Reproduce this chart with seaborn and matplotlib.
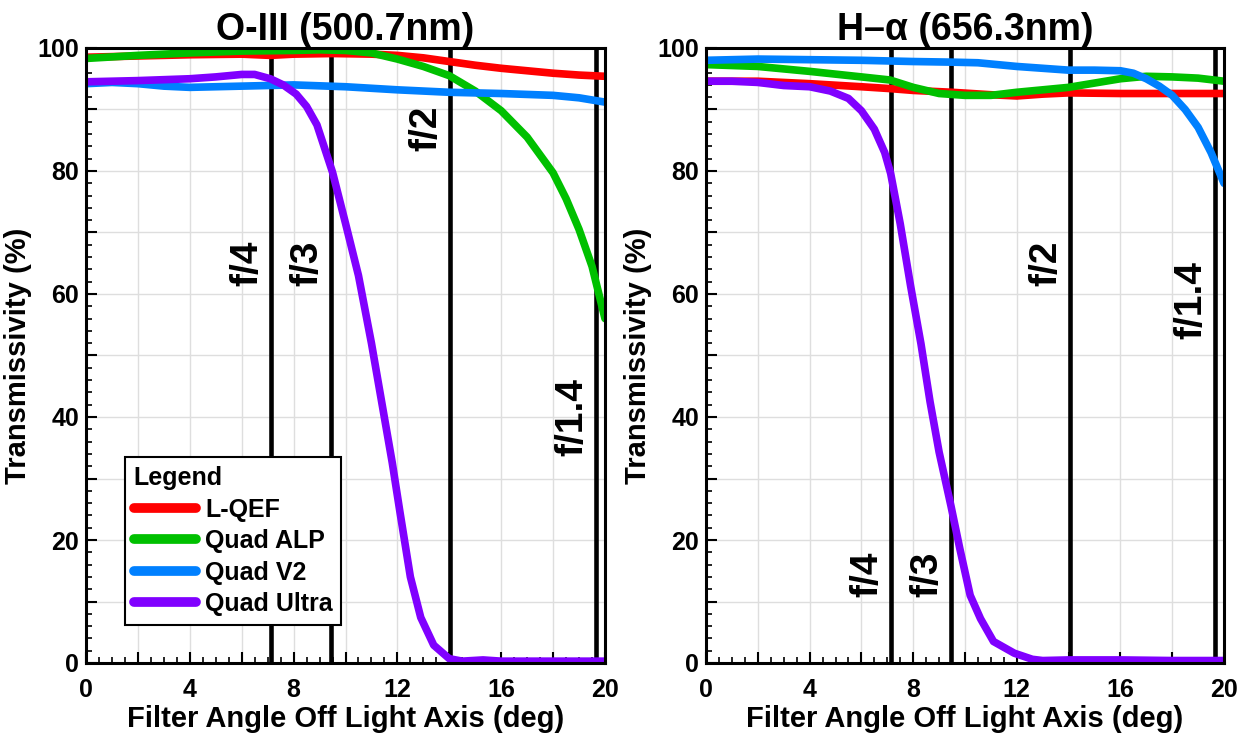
import numpy as np
import pandas as pd
import matplotlib
matplotlib.use("Agg")
import matplotlib.pyplot as plt
from matplotlib.ticker import MultipleLocator, FuncFormatter
import seaborn as sns

# ---------------- data ----------------
series_names = ["L-QEF", "Quad ALP", "Quad V2", "Quad Ultra"]
series_colors = ["#FF0000", "#00C000", "#0080FF", "#8000FF"]

# O-III (500.7nm)
oiii_lqef_x = [0, 2, 4, 6, 7.1, 8, 9.5, 11, 12, 13, 14, 15, 16, 17, 18, 19, 20]
oiii_lqef_y = [98.5, 98.7, 98.9, 99.0, 98.8, 99.0, 99.1, 99.0, 98.8, 98.4, 97.8, 97.2, 96.7, 96.3, 95.9, 95.6, 95.4]
oiii_alp_x = [0, 2, 4, 6, 8, 9, 10, 11, 12, 13, 14, 15, 16, 17, 18, 18.5, 19, 19.5, 20]
oiii_alp_y = [98.3, 98.8, 99.2, 99.5, 99.6, 99.7, 99.6, 99.2, 98.2, 97.0, 95.5, 93.0, 89.8, 85.5, 79.7, 75.5, 70.5, 64.5, 56.0]
oiii_v2_x = [0, 1, 2, 3, 4, 6, 8, 10, 12, 14, 16, 18, 19, 20]
oiii_v2_y = [94.2, 94.4, 94.2, 93.8, 93.6, 93.8, 94.0, 93.7, 93.2, 92.8, 92.6, 92.3, 91.9, 91.2]
oiii_ultra_x = [0, 2, 4, 5, 6, 6.5, 7.1, 7.6, 8.1, 8.5, 8.9, 9.5, 10.0, 10.5, 11.0, 11.4, 11.8,
                12.1, 12.5, 12.9, 13.4, 14.0, 14.5, 15.3, 16, 18, 20]
oiii_ultra_y = [94.5, 94.7, 95.0, 95.3, 95.7, 95.7, 95.0, 94.0, 92.5, 90.5, 87.5, 79.8, 71.5, 63.0, 52.0,
                42.3, 32.6, 24.5, 14.0, 7.4, 2.9, 0.7, 0.3, 0.5, 0.3, 0.3, 0.3]

# H-alpha (656.3nm)
ha_lqef_x = [0, 2, 4, 6, 7.1, 8, 9.5, 11, 12, 13, 14, 16, 18, 20]
ha_lqef_y = [94.6, 94.6, 94.2, 93.7, 93.4, 93.1, 92.8, 92.4, 92.2, 92.5, 92.7, 92.6, 92.6, 92.6]
ha_alp_x = [0, 2, 4, 6, 7.1, 8, 9, 10, 11, 12, 13, 14, 15, 16, 17, 18, 19, 20]
ha_alp_y = [97.3, 97.0, 96.2, 95.3, 94.8, 93.6, 92.6, 92.3, 92.3, 92.8, 93.2, 93.6, 94.3, 95.0, 95.4, 95.3, 95.1, 94.6]
ha_v2_x = [0, 2, 4, 6, 8, 9.5, 10.5, 12, 14, 15, 16, 16.5, 17, 17.5, 18, 18.5, 19, 19.5, 20]
ha_v2_y = [98.0, 98.2, 98.1, 98.0, 97.8, 97.7, 97.6, 97.0, 96.4, 96.4, 96.3, 95.9, 95.0, 93.8, 92.3, 90.0, 87.1, 83.0, 78.0]
ha_ultra_x = [0, 1, 2, 3, 4, 4.8, 5.5, 6.0, 6.5, 6.9, 7.13, 7.5, 7.9, 8.3, 8.65, 9.0, 9.46, 9.8,
              10.2, 10.6, 11.1, 11.9, 12.6, 13, 14, 16, 18, 20]
ha_ultra_y = [94.6, 94.6, 94.4, 93.9, 93.7, 93.0, 91.8, 89.8, 86.8, 83.0, 79.6, 71.4, 61.3, 51.9, 42.5,
              34.3, 25.5, 18.6, 11.0, 7.2, 3.5, 1.6, 0.6, 0.4, 0.5, 0.5, 0.4, 0.4]

# f-number marker lines (deg)
f_labels = ["f/4", "f/3", "f/2", "f/1.4"]
f_angles = [7.13, 9.46, 14.04, 19.65]
oiii_label_y = [65, 65, 87, 40]
ha_label_y = [14.5, 14.5, 65, 59]

panel_titles = ["O-III (500.7nm)", "H\u2013\u03b1 (656.3nm)"]
x_label = "Filter Angle Off Light Axis (deg)"
y_label = "Transmissivity (%)"


def build_frame(xs, ys):
    rows = []
    for name, x, y in zip(series_names, xs, ys):
        for a, b in zip(x, y):
            rows.append({"angle": a, "trans": b, "filter": name})
    return pd.DataFrame(rows)


oiii_df = build_frame([oiii_lqef_x, oiii_alp_x, oiii_v2_x, oiii_ultra_x],
                      [oiii_lqef_y, oiii_alp_y, oiii_v2_y, oiii_ultra_y])
ha_df = build_frame([ha_lqef_x, ha_alp_x, ha_v2_x, ha_ultra_x],
                    [ha_lqef_y, ha_alp_y, ha_v2_y, ha_ultra_y])

# ---------------- style ----------------
sns.set_style("white")
plt.rcParams["font.family"] = ["Liberation Sans", "DejaVu Sans"]
plt.rcParams["font.weight"] = "bold"
plt.rcParams["text.color"] = "black"
plt.rcParams["axes.labelcolor"] = "black"
plt.rcParams["xtick.color"] = "black"
plt.rcParams["ytick.color"] = "black"

fig = plt.figure(figsize=(12.46, 7.38), dpi=100)
ax1 = fig.add_axes([86 / 1246, 1 - 663 / 738, 519 / 1246, 615 / 738])
ax2 = fig.add_axes([706 / 1246, 1 - 663 / 738, 518 / 1246, 615 / 738])

palette = dict(zip(series_names, series_colors))

for ax, df, title, label_y, show_legend in [
    (ax1, oiii_df, panel_titles[0], oiii_label_y, True),
    (ax2, ha_df, panel_titles[1], ha_label_y, False),
]:
    ax.set_axisbelow(True)
    ax.grid(True, which="major", color="#dedede", linewidth=1.0)
    for a in f_angles:
        ax.axvline(a, color="black", linewidth=3.3, zorder=1)
    sns.lineplot(data=df, x="angle", y="trans", hue="filter", palette=palette,
                 hue_order=series_names, linewidth=5.5, sort=False, estimator=None,
                 ax=ax, legend=show_legend, zorder=2)
    for lab, a, yy in zip(f_labels, f_angles, label_y):
        ax.text(a - 0.22, yy, lab, rotation=90, ha="right", va="center",
                fontsize=28, fontweight="bold", color="black", zorder=3)
    ax.set_xlim(0, 20)
    ax.set_ylim(0, 100)
    ax.xaxis.set_major_locator(MultipleLocator(2))
    ax.xaxis.set_minor_locator(MultipleLocator(0.5))
    ax.yaxis.set_major_locator(MultipleLocator(10))
    ax.yaxis.set_minor_locator(MultipleLocator(2))
    ax.xaxis.set_major_formatter(FuncFormatter(lambda v, p: f"{int(round(v))}" if round(v) % 4 == 0 else ""))
    ax.yaxis.set_major_formatter(FuncFormatter(lambda v, p: f"{int(round(v))}" if round(v) % 20 == 0 else ""))
    ax.tick_params(which="major", direction="in", length=8, width=1.5, labelsize=18,
                   bottom=True, left=True, top=False, right=False)
    ax.tick_params(axis="x", which="major", pad=11)
    ax.tick_params(axis="y", which="major", pad=5)
    ax.tick_params(which="minor", direction="in", length=4, width=1.2,
                   bottom=True, left=True, top=False, right=False)
    for lbl in ax.get_xticklabels() + ax.get_yticklabels():
        lbl.set_fontweight("bold")
    for sp in ax.spines.values():
        sp.set_visible(True)
        sp.set_color("black")
        sp.set_linewidth(2.2)
    ax.set_title(title, fontsize=27, fontweight="bold", pad=4)
    ax.set_xlabel(x_label, fontsize=21, fontweight="bold", labelpad=2)
    ax.set_ylabel(y_label, fontsize=21, fontweight="bold", labelpad=4)

leg = ax1.legend(title="Legend", loc="lower left", bbox_to_anchor=(0.075, 0.062),
                 fontsize=18, title_fontsize=18, frameon=True, fancybox=False,
                 framealpha=1.0, edgecolor="black", handlelength=2.5, handletextpad=0.35,
                 borderpad=0.35, labelspacing=0.3, borderaxespad=0)
leg.get_frame().set_linewidth(1.5)
leg._legend_box.align = "left"
leg.get_title().set_fontweight("bold")
for t in leg.get_texts():
    t.set_fontweight("bold")
for h in leg.get_lines():
    h.set_linewidth(7)
leg.set_zorder(5)

fig.savefig("out.png", dpi=100)
